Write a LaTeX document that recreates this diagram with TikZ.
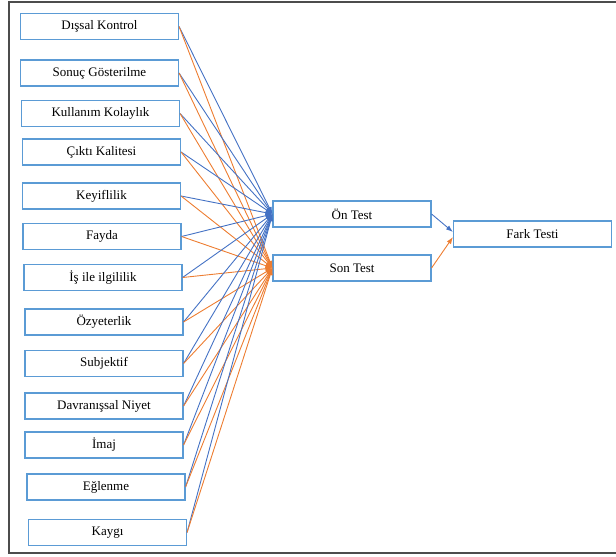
\documentclass[tikz,border=0pt]{standalone}
\usepackage{fontspec}
\setmainfont{Liberation Serif}
\usetikzlibrary{arrows.meta}
\definecolor{Edge}{HTML}{5B9BD5}
\definecolor{Blu}{HTML}{4472C4}
\definecolor{Org}{HTML}{ED7D31}

\begin{document}
\begin{tikzpicture}[x=1pt,y=-1pt,
  box/.style={draw=Edge,line width=1.1pt,minimum width=158pt,minimum height=26pt,inner sep=0pt,font=\fontsize{13}{15}\selectfont},
  arr/.style={-{Latex[length=7pt,width=5pt]},line width=.9pt}]
  \useasboundingbox (0,0) rectangle (616,557);
  \draw[line width=1.2pt,black!70] (616,2) -- (9,2) -- (9,553) -- (616,553);
  % predictor boxes
  \foreach \n/\x/\y/\t in {dk/99.5/26.5/Dışsal Kontrol, sg/99.5/73/Sonuç Gösterilme,
      kk/100.5/113.5/Kullanım Kolaylık, ck/101.5/152/Çıktı Kalitesi,
      ke/101.5/196/Keyiflilik, fa/102/236.5/Fayda, ii/103/277.5/İş ile ilgililik,
      oz/104/322/Özyeterlik, su/104/363.5/Subjektif, dn/104/406/Davranışsal Niyet,
      im/104/445/İmaj, eg/106/487/Eğlenme, ka/107.5/532.5/Kaygı}
    \node[box] (\n) at (\x,\y) {\t};
  % test boxes
  \node[box] (on) at (352,214) {Ön Test};
  \node[box] (son) at (352,268) {Son Test};
  \node[box] (fark) at (532.5,234) {Fark Testi};
  \foreach \n in {dk,sg,kk,ck,ke,fa,ii,oz,su,dn,im,eg,ka} {
    \draw[arr,Blu] (\n.east) -- (on.west);
    \draw[arr,Org] (\n.east) -- (son.west);
  }
  \draw[arr,Blu] (on.east) -- ([yshift=2pt]fark.west);
  \draw[arr,Org] (son.east) -- ([yshift=-3pt]fark.west);
\end{tikzpicture}
\end{document}
